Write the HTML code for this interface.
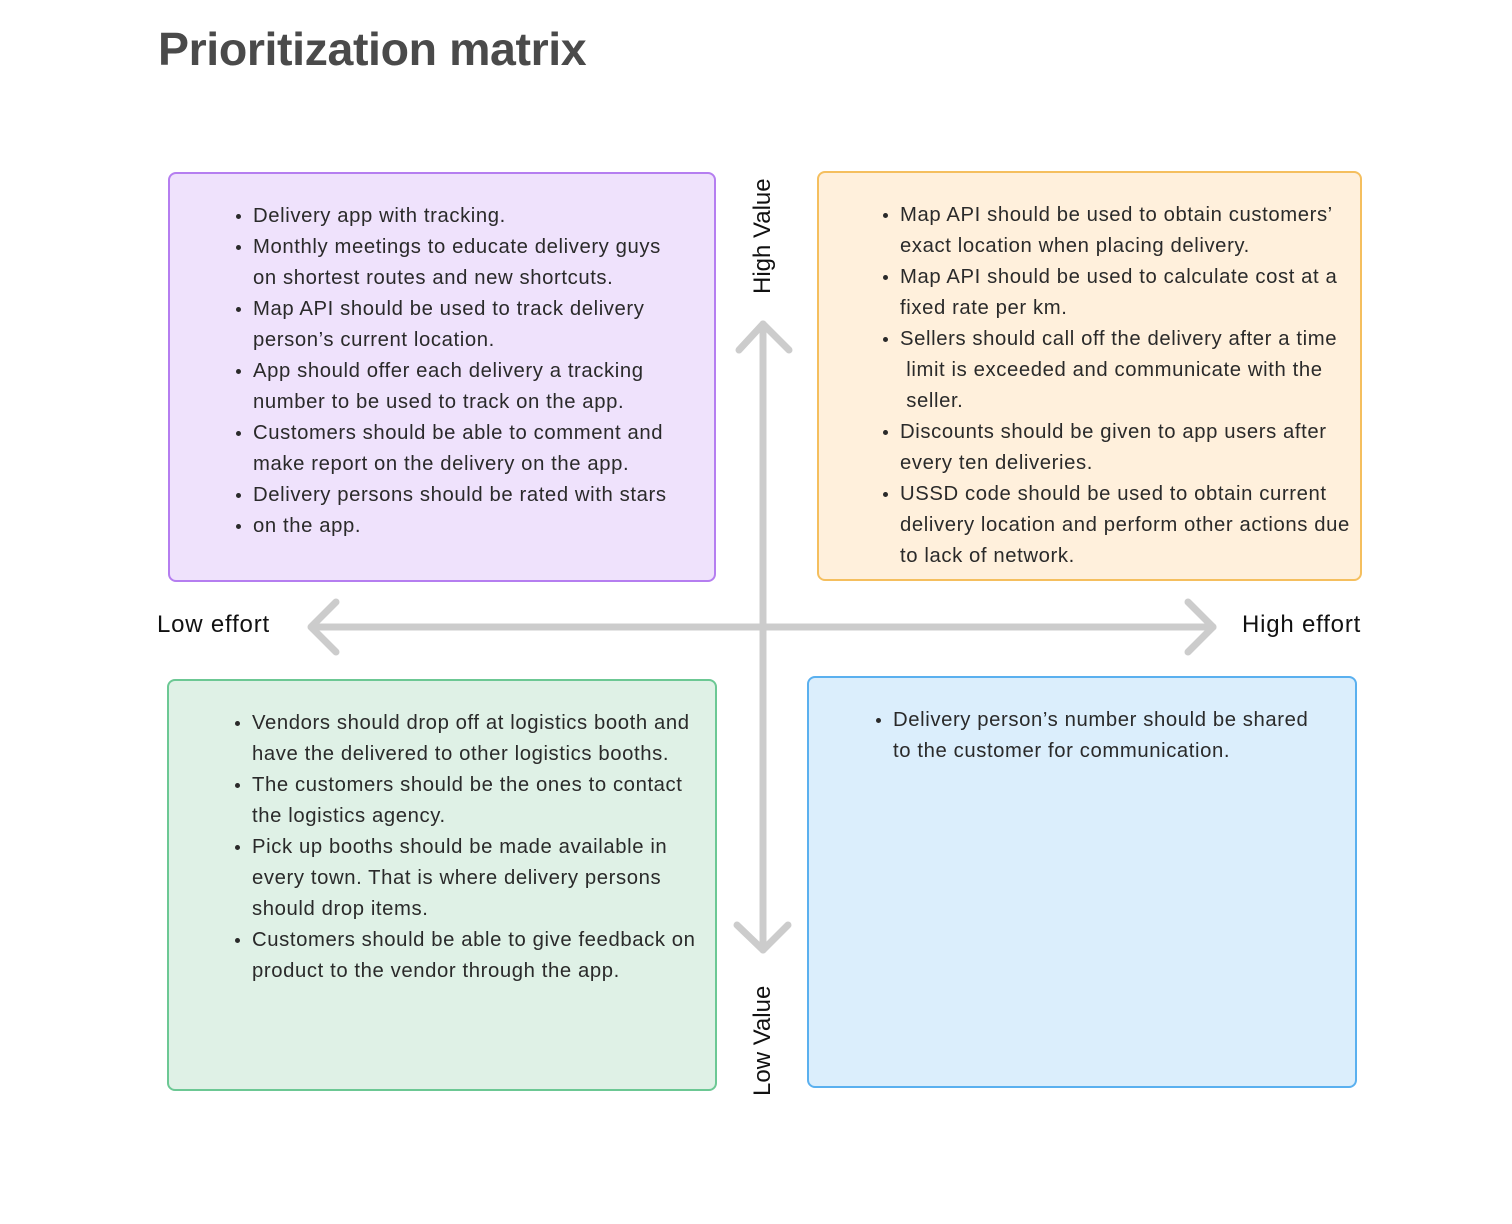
<!DOCTYPE html>
<html><head><style>
body{margin:0;width:1512px;height:1224px;background:#fff;font-family:"Liberation Sans",sans-serif;position:relative;overflow:hidden}
h1{position:absolute;left:158px;top:22px;margin:0;font-size:46.5px;font-weight:bold;color:#4a4a4a;letter-spacing:-0.4px}
.box{position:absolute;box-sizing:border-box;border:2px solid;border-radius:8px}
.box ul{margin:0;padding:0 0 0 85px;list-style:none;font-size:20.3px;line-height:31px;color:#2a2a2a;white-space:nowrap;letter-spacing:0.6px}
.box li{position:relative}
.box li.b:before{content:"";position:absolute;left:-17px;top:13px;width:5px;height:5px;border-radius:50%;background:#2a2a2a}
.lab{position:absolute;font-size:24px;color:#111;letter-spacing:0.8px}
.v{position:absolute;font-size:24px;color:#111;transform:rotate(-90deg);transform-origin:left top;white-space:nowrap}
</style></head><body>
<h1>Prioritization matrix</h1>
<svg width="1512" height="1224" style="position:absolute;left:0;top:0">
<g stroke="#cccccc" stroke-width="7" fill="none" stroke-linecap="round" stroke-linejoin="round">
<line x1="312" y1="627" x2="1213" y2="627"/>
<polyline points="336,602 311,627 336,652"/>
<polyline points="1188,602 1213,627 1188,652"/>
<line x1="763" y1="324" x2="763" y2="950"/>
<polyline points="739,350 763,324 789,350"/>
<polyline points="737,925 763,950 788,925"/>
</g>
</svg>
<div class="box" style="left:168px;top:172px;width:548px;height:410px;background:#efe2fc;border-color:#b57ef0">
<ul style="padding-top:27px;padding-left:83px"><li class="b">Delivery app with tracking.</li><li class="b">Monthly meetings to educate delivery guys<br>on shortest routes and new shortcuts.</li><li class="b">Map API should be used to track delivery<br>person’s current location.</li><li class="b">App should offer each delivery a tracking<br>number to be used to track on the app.</li><li class="b">Customers should be able to comment and<br>make report on the delivery on the app.</li><li class="b">Delivery persons should be rated with stars</li><li class="b">on the app.</li></ul></div>
<div class="box" style="left:817px;top:171px;width:545px;height:410px;background:#fff0dc;border-color:#f5bf5e">
<ul style="padding-top:27px;padding-left:81px"><li class="b">Map API should be used to obtain customers’<br>exact location when placing delivery.</li><li class="b">Map API should be used to calculate cost at a<br>fixed rate per km.</li><li class="b">Sellers should call off the delivery after a time<br>&nbsp;limit is exceeded and communicate with the<br>&nbsp;seller.</li><li class="b">Discounts should be given to app users after<br>every ten deliveries.</li><li class="b">USSD code should be used to obtain current<br>delivery location and perform other actions due<br>to lack of network.</li></ul></div>
<div class="box" style="left:167px;top:679px;width:550px;height:412px;background:#dff1e6;border-color:#6cc894">
<ul style="padding-top:27px;padding-left:83px"><li class="b">Vendors should drop off at logistics booth and<br>have the delivered to other logistics booths.</li><li class="b">The customers should be the ones to contact<br>the logistics agency.</li><li class="b">Pick up booths should be made available in<br>every town. That is where delivery persons<br>should drop items.</li><li class="b">Customers should be able to give feedback on<br>product to the vendor through the app.</li></ul></div>
<div class="box" style="left:807px;top:676px;width:550px;height:412px;background:#dbeefc;border-color:#5ab0ef">
<ul style="padding-top:27px;padding-left:84px"><li class="b">Delivery person’s number should be shared<br>to the customer for communication.</li></ul></div>
<div class="lab" style="left:157px;top:611px">Low effort</div>
<div class="lab" style="left:1242px;top:611px">High effort</div>
<div class="v" style="left:749px;top:294px">High Value</div>
<div class="v" style="left:749px;top:1096px">Low Value</div>
</body></html>
